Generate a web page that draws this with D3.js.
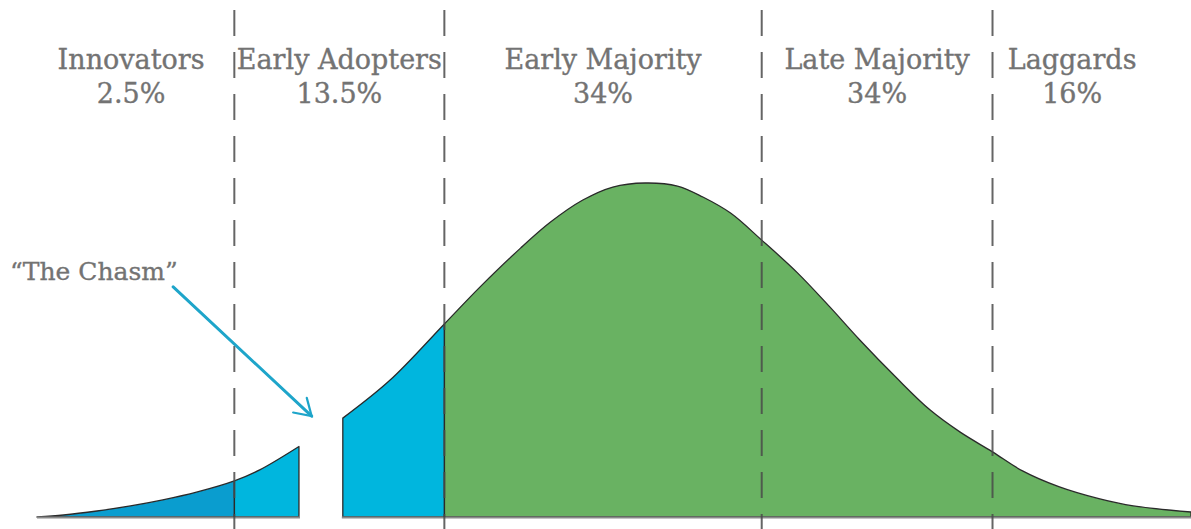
<!DOCTYPE html>
<html>
<head>
<meta charset="utf-8">
<script src="https://cdn.jsdelivr.net/npm/d3@7"></script>
<style>
  html, body { margin: 0; padding: 0; background: #ffffff; }
  svg { display: block; }
</style>
</head>
<body>
<svg id="chart" width="1191" height="529"></svg>
<script>
// ---- data ----
// adoption curve (x: time units 0..100, y: relative share 0..100)
const curveLeft = [
  [0, 0], [2.3, 0.6], [5.2, 1.8], [8.1, 3.3], [10.9, 5.1], [13.9, 7.5],
  [17.1, 10.8], [19.3, 14.1], [22.7, 21.1]
];
const curveRight = [
  [26.5, 29.6], [30.6, 41.0], [35.3, 57.8], [38.4, 68.9], [41.9, 80.5],
  [44.5, 88.3], [47.3, 94.9], [49.9, 98.8], [52.7, 100], [55.5, 99.1],
  [57.7, 95.8], [60.1, 91.0], [62.8, 82.9], [65.9, 73.1], [68.7, 62.9],
  [71.3, 53.0], [74.5, 41.6], [77.4, 32.0], [80.0, 25.4], [82.8, 19.5],
  [85.4, 13.8], [88.6, 9.0], [92.1, 5.4], [95.0, 3.3], [100, 1.5]
];
const categories = ["Innovators", "Early Adopters", "Early Majority", "Late Majority", "Laggards"];
const shares = ["2.5%", "13.5%", "34%", "34%", "16%"];
const segmentEdges = [-0.8, 17.1, 35.3, 62.8, 82.8, 96.6];
const chasm = [22.7, 26.5];
const chasmLabel = "\u201CThe Chasm\u201D";
const chasmArrow = [[11.8, 68.9], [23.8, 30.2]];

// ---- layout ----
const W = 1191, H = 529;
const x = d3.scaleLinear().domain([0, 100]).range([37, 1191]);
const y = d3.scaleLinear().domain([0, 100]).range([517, 183]);

const svg = d3.select("#chart");
const defs = svg.append("defs");

const fillRegions = [
  { lo: 0, hi: segmentEdges[1], color: "#0a9dcf", piece: curveLeft },
  { lo: segmentEdges[1], hi: chasm[0], color: "#00b6de", piece: curveLeft },
  { lo: chasm[1], hi: segmentEdges[2], color: "#00b6de", piece: curveRight },
  { lo: segmentEdges[2], hi: 100, color: "#69b262", piece: curveRight }
];

const curveType = d3.curveCatmullRom.alpha(0.5);
const area = d3.area()
  .x(d => x(d[0])).y0(y(0)).y1(d => y(d[1]))
  .curve(curveType);

fillRegions.forEach((r, i) => {
  defs.append("clipPath").attr("id", "clip" + i)
    .append("rect")
    .attr("x", x(r.lo)).attr("y", 0)
    .attr("width", x(r.hi) - x(r.lo)).attr("height", H);
  svg.append("path")
    .attr("d", area(r.piece))
    .attr("fill", r.color)
    .attr("clip-path", "url(#clip" + i + ")");
});

// outlines of the two curve pieces
[curveLeft, curveRight].forEach(piece => {
  svg.append("path")
    .attr("d", area(piece))
    .attr("fill", "none")
    .attr("stroke", "#2a2a2a")
    .attr("stroke-width", 1.3)
    .attr("stroke-linejoin", "round");
});

// baseline
svg.append("line")
  .attr("x1", x(0)).attr("x2", x(100))
  .attr("y1", y(0) + 0.5).attr("y2", y(0) + 0.5)
  .attr("stroke", "#8a8a8a").attr("stroke-width", 2);
// cover baseline in the chasm
svg.append("rect")
  .attr("x", x(chasm[0]) + 1).attr("y", y(0) - 2)
  .attr("width", x(chasm[1]) - x(chasm[0]) - 2).attr("height", 6)
  .attr("fill", "#ffffff");

// solid separators inside filled colour changes
[segmentEdges[1], segmentEdges[2]].forEach(e => {
  const piece = e < chasm[0] ? curveLeft : curveRight;
  const i = d3.bisector(d => d[0]).left(piece, e);
  const a = piece[Math.max(0, i - 1)], b = piece[i];
  const t = b[0] === a[0] ? 0 : (e - a[0]) / (b[0] - a[0]);
  const h = a[1] + t * (b[1] - a[1]);
  svg.append("line")
    .attr("x1", x(e)).attr("x2", x(e))
    .attr("y1", y(h)).attr("y2", y(0))
    .attr("stroke", "#2a2a2a").attr("stroke-width", 1.5);
});

// dashed dividers
svg.selectAll("line.divider")
  .data(segmentEdges.slice(1, 5))
  .join("line")
  .attr("class", "divider")
  .attr("x1", d => x(d)).attr("x2", d => x(d))
  .attr("y1", 10).attr("y2", H)
  .attr("stroke", "#4a4a4a")
  .attr("stroke-opacity", 0.85)
  .attr("stroke-width", 2)
  .attr("stroke-dasharray", "26,16");

// category labels
const font = "'DejaVu Serif', 'Liberation Serif', serif";
const labels = svg.append("g")
  .attr("font-family", font)
  .attr("fill", "#737373")
  .attr("stroke", "#737373")
  .attr("stroke-width", 0.35)
  .attr("text-anchor", "middle");
categories.forEach((c, i) => {
  const cx = x((segmentEdges[i] + segmentEdges[i + 1]) / 2);
  labels.append("text").attr("x", cx).attr("y", 69)
    .attr("font-size", 27).text(c);
  labels.append("text").attr("x", cx).attr("y", 103)
    .attr("font-size", 27).text(shares[i]);
});

// chasm annotation
svg.append("text")
  .attr("x", 10).attr("y", 280)
  .attr("font-family", font)
  .attr("font-size", 25)
  .attr("fill", "#737373")
  .attr("stroke", "#737373")
  .attr("stroke-width", 0.35)
  .text(chasmLabel);

defs.append("marker")
  .attr("id", "arrowhead")
  .attr("viewBox", "0 0 12 12")
  .attr("refX", 10).attr("refY", 6)
  .attr("markerWidth", 8).attr("markerHeight", 8)
  .attr("markerUnits", "strokeWidth")
  .attr("orient", "auto")
  .append("path")
  .attr("d", "M2,1 L10,6 L2,11")
  .attr("fill", "none")
  .attr("stroke", "#1ea5ca")
  .attr("stroke-width", 1.1)
  .attr("stroke-linecap", "round");

svg.append("line")
  .attr("x1", x(chasmArrow[0][0])).attr("y1", y(chasmArrow[0][1]))
  .attr("x2", x(chasmArrow[1][0])).attr("y2", y(chasmArrow[1][1]))
  .attr("stroke", "#1ea5ca")
  .attr("stroke-width", 3)
  .attr("stroke-linecap", "round")
  .attr("marker-end", "url(#arrowhead)");
</script>
</body>
</html>
